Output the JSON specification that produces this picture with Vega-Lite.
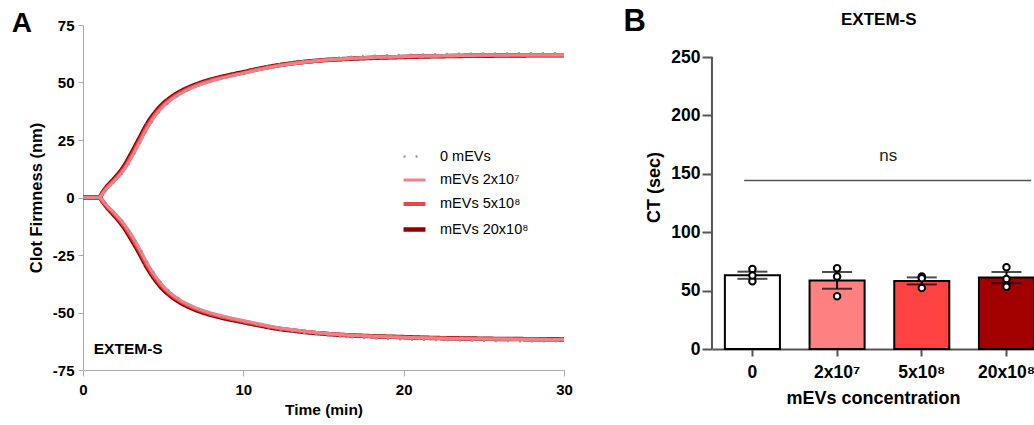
{
  "$schema": "https://vega.github.io/schema/vega-lite/v6.json",
  "padding": {"left": 11, "top": 6, "right": 0, "bottom": 0},
  "autosize": {"type": "pad"},
  "background": "white",
  "config": {
    "font": "Liberation Sans",
    "view": {"stroke": null},
    "axis": {"grid": false, "labelColor": "black", "titleColor": "black", "labelFontWeight": "bold", "titleFontWeight": "bold", "labelFlush": false}
  },
  "spacing": 50,
  "hconcat": [
    {
      "width": 481,
      "height": 345,
      "layer": [
        {
          "data": {"values": [
            {"s":"mEVs 20x10⁸","t":0,"up":0,"lo":0},{"s":"mEVs 20x10⁸","t":0.5,"up":0,"lo":0},{"s":"mEVs 20x10⁸","t":1,"up":0,"lo":0},{"s":"mEVs 20x10⁸","t":1.25,"up":2.5,"lo":-2},{"s":"mEVs 20x10⁸","t":1.5,"up":4.8,"lo":-4.3},{"s":"mEVs 20x10⁸","t":2,"up":8.6,"lo":-8.2},{"s":"mEVs 20x10⁸","t":2.5,"up":13,"lo":-12.5},{"s":"mEVs 20x10⁸","t":3,"up":19,"lo":-18},{"s":"mEVs 20x10⁸","t":3.5,"up":25.5,"lo":-24},{"s":"mEVs 20x10⁸","t":4,"up":32,"lo":-30.5},{"s":"mEVs 20x10⁸","t":4.5,"up":37,"lo":-35.8},{"s":"mEVs 20x10⁸","t":5,"up":40.8,"lo":-40},{"s":"mEVs 20x10⁸","t":5.5,"up":43.6,"lo":-43},{"s":"mEVs 20x10⁸","t":6,"up":45.8,"lo":-45.4},{"s":"mEVs 20x10⁸","t":7,"up":49,"lo":-48.8},{"s":"mEVs 20x10⁸","t":8,"up":51.3,"lo":-51.1},{"s":"mEVs 20x10⁸","t":9,"up":53,"lo":-52.8},{"s":"mEVs 20x10⁸","t":10,"up":54.5,"lo":-54.2},{"s":"mEVs 20x10⁸","t":11,"up":56,"lo":-55.6},{"s":"mEVs 20x10⁸","t":12,"up":57.3,"lo":-56.9},{"s":"mEVs 20x10⁸","t":13,"up":58.3,"lo":-57.8},{"s":"mEVs 20x10⁸","t":14,"up":59.1,"lo":-58.6},{"s":"mEVs 20x10⁸","t":15,"up":59.7,"lo":-59.2},{"s":"mEVs 20x10⁸","t":16,"up":60.1,"lo":-59.7},{"s":"mEVs 20x10⁸","t":18,"up":60.7,"lo":-60.3},{"s":"mEVs 20x10⁸","t":20,"up":61.1,"lo":-60.7},{"s":"mEVs 20x10⁸","t":22,"up":61.4,"lo":-61.1},{"s":"mEVs 20x10⁸","t":24,"up":61.6,"lo":-61.3},{"s":"mEVs 20x10⁸","t":26,"up":61.7,"lo":-61.5},{"s":"mEVs 20x10⁸","t":28,"up":61.8,"lo":-61.6},{"s":"mEVs 20x10⁸","t":30,"up":61.8,"lo":-61.7},
            {"s":"mEVs 5x10⁸","t":0,"up":0,"lo":0},{"s":"mEVs 5x10⁸","t":0.5,"up":0,"lo":0},{"s":"mEVs 5x10⁸","t":1,"up":0,"lo":0},{"s":"mEVs 5x10⁸","t":1.25,"up":2.2,"lo":-1.8},{"s":"mEVs 5x10⁸","t":1.5,"up":4.4,"lo":-3.9},{"s":"mEVs 5x10⁸","t":2,"up":8,"lo":-7.6},{"s":"mEVs 5x10⁸","t":2.5,"up":12.2,"lo":-11.8},{"s":"mEVs 5x10⁸","t":3,"up":18,"lo":-17},{"s":"mEVs 5x10⁸","t":3.5,"up":24.5,"lo":-23},{"s":"mEVs 5x10⁸","t":4,"up":31,"lo":-29.5},{"s":"mEVs 5x10⁸","t":4.5,"up":36.2,"lo":-35},{"s":"mEVs 5x10⁸","t":5,"up":40.1,"lo":-39.2},{"s":"mEVs 5x10⁸","t":5.5,"up":43,"lo":-42.4},{"s":"mEVs 5x10⁸","t":6,"up":45.3,"lo":-44.8},{"s":"mEVs 5x10⁸","t":7,"up":48.6,"lo":-48.3},{"s":"mEVs 5x10⁸","t":8,"up":51,"lo":-50.7},{"s":"mEVs 5x10⁸","t":9,"up":52.7,"lo":-52.4},{"s":"mEVs 5x10⁸","t":10,"up":54.2,"lo":-53.9},{"s":"mEVs 5x10⁸","t":11,"up":55.8,"lo":-55.3},{"s":"mEVs 5x10⁸","t":12,"up":57.1,"lo":-56.6},{"s":"mEVs 5x10⁸","t":13,"up":58.2,"lo":-57.6},{"s":"mEVs 5x10⁸","t":14,"up":59,"lo":-58.4},{"s":"mEVs 5x10⁸","t":15,"up":59.7,"lo":-59.1},{"s":"mEVs 5x10⁸","t":16,"up":60.1,"lo":-59.6},{"s":"mEVs 5x10⁸","t":18,"up":60.8,"lo":-60.3},{"s":"mEVs 5x10⁸","t":20,"up":61.2,"lo":-60.8},{"s":"mEVs 5x10⁸","t":22,"up":61.5,"lo":-61.1},{"s":"mEVs 5x10⁸","t":24,"up":61.7,"lo":-61.4},{"s":"mEVs 5x10⁸","t":26,"up":61.8,"lo":-61.5},{"s":"mEVs 5x10⁸","t":28,"up":61.9,"lo":-61.6},{"s":"mEVs 5x10⁸","t":30,"up":61.9,"lo":-61.7},
            {"s":"mEVs 2x10⁷","t":0,"up":0,"lo":0},{"s":"mEVs 2x10⁷","t":0.5,"up":0,"lo":0},{"s":"mEVs 2x10⁷","t":1,"up":0,"lo":0},{"s":"mEVs 2x10⁷","t":1.25,"up":2,"lo":-1.5},{"s":"mEVs 2x10⁷","t":1.5,"up":4,"lo":-3.5},{"s":"mEVs 2x10⁷","t":2,"up":7.5,"lo":-7},{"s":"mEVs 2x10⁷","t":2.5,"up":11.5,"lo":-11},{"s":"mEVs 2x10⁷","t":3,"up":17,"lo":-16},{"s":"mEVs 2x10⁷","t":3.5,"up":23.5,"lo":-22},{"s":"mEVs 2x10⁷","t":4,"up":30,"lo":-28.5},{"s":"mEVs 2x10⁷","t":4.5,"up":35.5,"lo":-34},{"s":"mEVs 2x10⁷","t":5,"up":39.5,"lo":-38.5},{"s":"mEVs 2x10⁷","t":5.5,"up":42.5,"lo":-41.8},{"s":"mEVs 2x10⁷","t":6,"up":44.8,"lo":-44.3},{"s":"mEVs 2x10⁷","t":7,"up":48.2,"lo":-47.8},{"s":"mEVs 2x10⁷","t":8,"up":50.6,"lo":-50.2},{"s":"mEVs 2x10⁷","t":9,"up":52.4,"lo":-52},{"s":"mEVs 2x10⁷","t":10,"up":54,"lo":-53.5},{"s":"mEVs 2x10⁷","t":11,"up":55.6,"lo":-55},{"s":"mEVs 2x10⁷","t":12,"up":57,"lo":-56.4},{"s":"mEVs 2x10⁷","t":13,"up":58.1,"lo":-57.4},{"s":"mEVs 2x10⁷","t":14,"up":59,"lo":-58.3},{"s":"mEVs 2x10⁷","t":15,"up":59.7,"lo":-59},{"s":"mEVs 2x10⁷","t":16,"up":60.2,"lo":-59.6},{"s":"mEVs 2x10⁷","t":18,"up":60.9,"lo":-60.3},{"s":"mEVs 2x10⁷","t":20,"up":61.3,"lo":-60.8},{"s":"mEVs 2x10⁷","t":22,"up":61.6,"lo":-61.2},{"s":"mEVs 2x10⁷","t":24,"up":61.8,"lo":-61.4},{"s":"mEVs 2x10⁷","t":26,"up":61.9,"lo":-61.6},{"s":"mEVs 2x10⁷","t":28,"up":62,"lo":-61.7},{"s":"mEVs 2x10⁷","t":30,"up":62,"lo":-61.8},
            {"s":"0 mEVs","t":0,"up":0,"lo":0},{"s":"0 mEVs","t":0.5,"up":0,"lo":0},{"s":"0 mEVs","t":1,"up":0,"lo":0},{"s":"0 mEVs","t":1.25,"up":1.8,"lo":-1.4},{"s":"0 mEVs","t":1.5,"up":3.8,"lo":-3.3},{"s":"0 mEVs","t":2,"up":7.2,"lo":-6.8},{"s":"0 mEVs","t":2.5,"up":11,"lo":-10.7},{"s":"0 mEVs","t":3,"up":16.5,"lo":-15.7},{"s":"0 mEVs","t":3.5,"up":23,"lo":-21.6},{"s":"0 mEVs","t":4,"up":29.5,"lo":-28},{"s":"0 mEVs","t":4.5,"up":35,"lo":-33.6},{"s":"0 mEVs","t":5,"up":39,"lo":-38.1},{"s":"0 mEVs","t":5.5,"up":42.2,"lo":-41.5},{"s":"0 mEVs","t":6,"up":44.6,"lo":-44.1},{"s":"0 mEVs","t":7,"up":48.2,"lo":-47.8},{"s":"0 mEVs","t":8,"up":50.8,"lo":-50.4},{"s":"0 mEVs","t":9,"up":52.7,"lo":-52.3},{"s":"0 mEVs","t":10,"up":54.4,"lo":-54},{"s":"0 mEVs","t":11,"up":56,"lo":-55.6},{"s":"0 mEVs","t":12,"up":57.5,"lo":-57},{"s":"0 mEVs","t":13,"up":58.6,"lo":-58.1},{"s":"0 mEVs","t":14,"up":59.6,"lo":-59},{"s":"0 mEVs","t":15,"up":60.3,"lo":-59.8},{"s":"0 mEVs","t":16,"up":60.8,"lo":-60.4},{"s":"0 mEVs","t":18,"up":61.6,"lo":-61.2},{"s":"0 mEVs","t":20,"up":62,"lo":-61.7},{"s":"0 mEVs","t":22,"up":62.3,"lo":-62},{"s":"0 mEVs","t":24,"up":62.5,"lo":-62.2},{"s":"0 mEVs","t":26,"up":62.6,"lo":-62.4},{"s":"0 mEVs","t":28,"up":62.7,"lo":-62.5},{"s":"0 mEVs","t":30,"up":62.7,"lo":-62.5}
          ]},
          "transform": [{"fold": ["up", "lo"], "as": ["branch", "v"]}],
          "mark": {"type": "line", "interpolate": "monotone", "strokeCap": "butt"},
          "encoding": {
            "x": {"field": "t", "type": "quantitative", "title": "Time (min)",
                  "scale": {"domain": [0, 30], "nice": false},
                  "axis": {"values": [0, 10, 20, 30], "domainColor": "#aaaaaa", "tickColor": "#aaaaaa", "tickSize": 6, "labelFontSize": 15, "labelPadding": 6, "titleFontSize": 15.5, "titlePadding": 5}},
            "y": {"field": "v", "type": "quantitative", "title": "Clot Firmness (nm)",
                  "scale": {"domain": [-75, 75], "nice": false},
                  "axis": {"values": [-75, -50, -25, 0, 25, 50, 75], "labelExpr": "'' + datum.value", "domainColor": "#aaaaaa", "tickColor": "#aaaaaa", "tickSize": 5, "labelFontSize": 15, "labelPadding": 4, "titleFontSize": 16.5, "titlePadding": 8}},
            "color": {"field": "s", "type": "nominal",
                      "scale": {"domain": ["0 mEVs", "mEVs 2x10⁷", "mEVs 5x10⁸", "mEVs 20x10⁸"], "range": ["#9a9a9a", "#f28087", "#e2474d", "#8e0000"]},
                      "legend": {"title": null, "orient": "none", "legendX": 318, "legendY": 119, "symbolType": "stroke", "symbolSize": 480, "labelFontSize": 14.5, "labelFontWeight": "normal", "labelColor": "black", "labelOffset": 12, "rowPadding": 4}},
            "strokeDash": {"field": "s", "type": "nominal",
                      "scale": {"domain": ["0 mEVs", "mEVs 2x10⁷", "mEVs 5x10⁸", "mEVs 20x10⁸"], "range": [[2, 10], [1, 0], [1, 0], [1, 0]]}},
            "strokeWidth": {"field": "s", "type": "nominal",
                      "scale": {"domain": ["0 mEVs", "mEVs 2x10⁷", "mEVs 5x10⁸", "mEVs 20x10⁸"], "range": [2.5, 4.5, 4, 3.5]}},
            "detail": {"field": "branch"}
          }
        },
        {
          "data": {"values": [{"label": "A"}]},
          "mark": {"type": "text", "fontSize": 28, "fontWeight": "bold", "align": "left", "baseline": "middle", "color": "black"},
          "encoding": {"text": {"field": "label"}, "x": {"datum": -4.45}, "y": {"datum": 75.5}}
        },
        {
          "data": {"values": [{"label": "EXTEM-S"}]},
          "mark": {"type": "text", "fontSize": 15.5, "fontWeight": "bold", "align": "left", "baseline": "middle", "color": "black"},
          "encoding": {"text": {"field": "label"}, "x": {"datum": 0.67}, "y": {"datum": -65.7}}
        }
      ]
    },
    {
      "width": 322,
      "height": 324,
      "encoding": {
        "x": {"field": "c", "type": "nominal", "title": "mEVs concentration",
              "scale": {"domain": ["0", "2x10⁷", "5x10⁸", "20x10⁸"], "paddingInner": 0.35, "paddingOuter": 0.076, "align": 1},
              "axis": {"labelAngle": 0, "domainColor": "#555555", "domainWidth": 2, "tickColor": "#555555", "tickWidth": 2, "tickSize": 7, "labelFontSize": 17.5, "labelPadding": 7, "titleFontSize": 18, "titlePadding": 9}}
      },
      "layer": [
        {
          "data": {"name": "ct", "values": [
            {"c": "0", "v": 68.6}, {"c": "0", "v": 58}, {"c": "0", "v": 62.9},
            {"c": "2x10⁷", "v": 69.1}, {"c": "2x10⁷", "v": 62}, {"c": "2x10⁷", "v": 45.1},
            {"c": "5x10⁸", "v": 62}, {"c": "5x10⁸", "v": 60.6}, {"c": "5x10⁸", "v": 52.3},
            {"c": "20x10⁸", "v": 70}, {"c": "20x10⁸", "v": 60}, {"c": "20x10⁸", "v": 53.4}
          ]},
          "layer": [
            {
              "mark": {"type": "bar", "stroke": "black", "strokeWidth": 2},
              "encoding": {
                "y": {"aggregate": "mean", "field": "v", "type": "quantitative", "title": "CT (sec)",
                      "scale": {"domain": [0, 277.5], "nice": false},
                      "axis": {"values": [0, 50, 100, 150, 200, 250], "domain": false, "tickColor": "#555555", "tickWidth": 2, "tickSize": 10, "labelFontSize": 17.5, "labelPadding": 2, "titleFontSize": 18, "titlePadding": 7}},
                "fill": {"field": "c", "type": "nominal", "legend": null,
                         "scale": {"domain": ["0", "2x10⁷", "5x10⁸", "20x10⁸"], "range": ["#ffffff", "#ff8080", "#ff4242", "#a30000"]}}
              }
            },
            {
              "mark": {"type": "errorbar", "extent": "stderr", "color": "black", "thickness": 2, "ticks": {"size": 30, "thickness": 2, "color": "black"}},
              "encoding": {"y": {"field": "v", "type": "quantitative", "title": "CT (sec)"}}
            },
            {
              "mark": {"type": "point", "shape": "circle", "filled": false, "fill": "white", "fillOpacity": 1, "stroke": "black", "strokeWidth": 2, "size": 42, "opacity": 1},
              "encoding": {"y": {"field": "v", "type": "quantitative", "title": "CT (sec)"}}
            }
          ]
        },
        {
          "data": {"values": [{"lo": 0, "hi": 250}]},
          "mark": {"type": "rule", "color": "#555555", "strokeWidth": 2},
          "encoding": {"x": {"datum": "0", "bandPosition": -0.2345}, "y": {"field": "lo", "type": "quantitative"}, "y2": {"field": "hi"}}
        },
        {
          "data": {"values": [{"p": 144.3}]},
          "mark": {"type": "rule", "color": "#555555", "strokeWidth": 1.5},
          "encoding": {"x": {"datum": "0", "bandPosition": 0.35}, "x2": {"datum": "20x10⁸", "bandPosition": 0.95}, "y": {"field": "p", "type": "quantitative"}}
        },
        {
          "data": {"values": [{"label": "ns", "p": 165}]},
          "mark": {"type": "text", "fontSize": 17, "color": "#222222", "align": "center", "baseline": "middle", "dx": -6},
          "encoding": {"text": {"field": "label"}, "x": {"datum": "5x10⁸", "bandPosition": 0}, "y": {"field": "p", "type": "quantitative"}}
        },
        {
          "data": {"values": [{"label": "EXTEM-S", "p": 281.6}]},
          "mark": {"type": "text", "fontSize": 17, "fontWeight": "bold", "align": "center", "baseline": "middle", "dx": -15.5, "color": "black"},
          "encoding": {"text": {"field": "label"}, "x": {"datum": "5x10⁸", "bandPosition": 0}, "y": {"field": "p", "type": "quantitative"}}
        },
        {
          "data": {"values": [{"label": "B", "p": 280}]},
          "mark": {"type": "text", "fontSize": 31, "fontWeight": "bold", "align": "left", "baseline": "middle", "dx": -129, "color": "black"},
          "encoding": {"text": {"field": "label"}, "x": {"datum": "0"}, "y": {"field": "p", "type": "quantitative"}}
        }
      ]
    }
  ]
}
